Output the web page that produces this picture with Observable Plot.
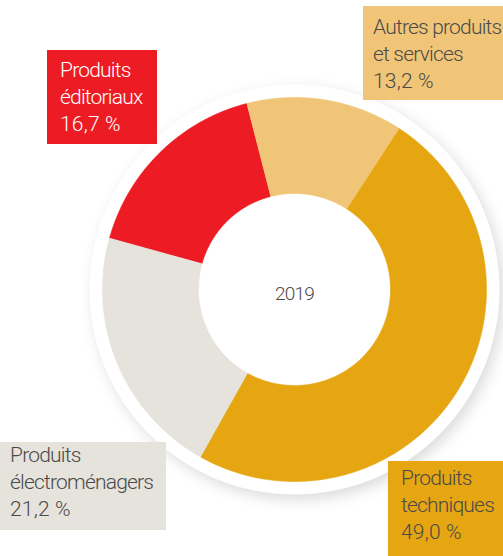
<!DOCTYPE html>
<html>
<head>
<meta charset="utf-8">
<script src="https://cdn.jsdelivr.net/npm/d3@7"></script>
<script src="https://cdn.jsdelivr.net/npm/@observablehq/plot@0.6"></script>
<style>
  html, body { margin: 0; padding: 0; background: #fff; }
  #wrap { position: relative; width: 503px; height: 556px; overflow: hidden; }
  #wrap svg { position: absolute; left: 0; top: 0; }
  .lab { position: absolute; box-sizing: border-box; font-family: Roboto, "Liberation Sans", sans-serif; font-weight: 300; font-size: 21px; letter-spacing: -0.8px; line-height: 27px; color: #4a4a4a; white-space: nowrap; }
  .lab .pct { letter-spacing: 0.2px; }
</style>
</head>
<body>
<div id="wrap"></div>
<script>
// Data
const categories = ["Produits éditoriaux", "Autres produits et services", "Produits techniques", "Produits électroménagers"];
const labelLines = [["Produits", "éditoriaux"], ["Autres produits", "et services"], ["Produits", "techniques"], ["Produits", "électroménagers"]];
const shares = [16.7, 13.2, 49.0, 21.2];
const shareLabels = ["16,7 %", "13,2 %", "49,0 %", "21,2 %"];
const colors = ["#ED1C24", "#F1C577", "#E6A612", "#E6E2DC"];
const centerLabel = "2019";

// Geometry (pixels)
const R_OUT = 192, R_IN = 96, R_RING = 205;
const startAngle = -74.5 * Math.PI / 180;

const pie = d3.pie().sort(null).value(d => d.v).startAngle(startAngle).endAngle(startAngle + 2 * Math.PI);
const arcs = pie(categories.map((c, i) => ({name: c, v: shares[i]})));

const pts = [];
for (const a of arcs) {
  const n = Math.max(8, Math.ceil((a.endAngle - a.startAngle) / 0.01));
  for (let k = 0; k <= n; k++) {
    const t = a.startAngle + (a.endAngle - a.startAngle) * k / n;
    pts.push({name: a.data.name, x: R_OUT * Math.sin(t), y: R_OUT * Math.cos(t)});
  }
  for (let k = n; k >= 0; k--) {
    const t = a.startAngle + (a.endAngle - a.startAngle) * k / n;
    pts.push({name: a.data.name, x: R_IN * Math.sin(t), y: R_IN * Math.cos(t)});
  }
}

const svg = Plot.plot({
  width: 503,
  height: 556,
  margin: 0,
  x: {domain: [-294, 209], axis: null},
  y: {domain: [-267, 289], axis: null},
  color: {domain: categories, range: colors},
  marks: [
    Plot.dot([{x: 0, y: 0}], {x: "x", y: "y", r: R_RING, fill: "white", stroke: "none"}),
    Plot.line(pts, {x: "x", y: "y", z: "name", fill: "name", stroke: "name", strokeWidth: 0.6, curve: "linear"}),
    Plot.text([centerLabel], {x: () => 0, y: () => -4, text: d => d, fontSize: 19, fontWeight: 300, fill: "#4a4a4a", fontFamily: "Roboto, sans-serif"})
  ]
});
d3.select(svg).select('g[aria-label="dot"]').style("filter", "drop-shadow(4px 5px 7px rgba(0,0,0,0.14))");
d3.select(svg).select('g[aria-label="text"]').style("letter-spacing", "-0.8px");
document.getElementById("wrap").appendChild(svg);

// Label boxes (annotation layout)
const boxes = [
  {left: 47, top: 50, width: 110, height: 94, pl: 13, pt: 7, color: "#fff"},
  {left: 363, top: 6, width: 145, height: 94, pl: 10, pt: 8, color: "#4a4a4a"},
  {left: 388, top: 461, width: 120, height: 100, pl: 13, pt: 4, color: "#4a4a4a"},
  {left: 0, top: 442, width: 166, height: 88, pl: 10, pt: 0, color: "#4a4a4a"}
];
boxes.forEach((b, i) => {
  const d = document.createElement("div");
  d.className = "lab";
  Object.assign(d.style, {left: b.left + "px", top: b.top + "px", width: b.width + "px", height: b.height + "px",
    paddingLeft: b.pl + "px", paddingTop: b.pt + "px", background: colors[i], color: b.color});
  d.innerHTML = labelLines[i].map(s => `<div>${s}</div>`).join("") + `<div class="pct">${shareLabels[i]}</div>`;
  document.getElementById("wrap").appendChild(d);
});
</script>
</body>
</html>
